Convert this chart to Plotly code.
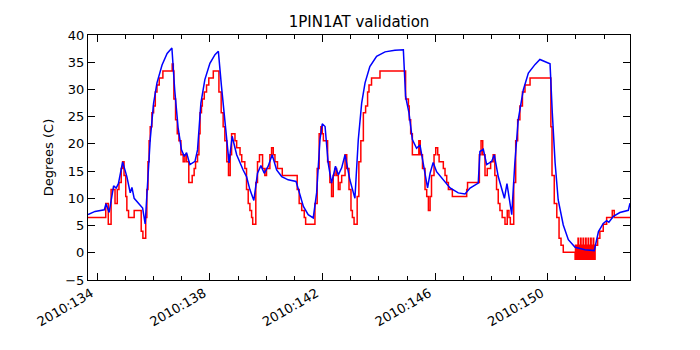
import plotly.graph_objects as go

# model prediction (smooth), x in day-of-year 2010
model_days = [133.67, 133.92, 134.25, 134.31, 134.42, 134.51, 134.58, 134.67, 134.75, 134.90,
              135.05, 135.17, 135.23, 135.31, 135.46, 135.61, 135.70, 135.79, 135.88, 136.00,
              136.12, 136.30, 136.48, 136.65, 136.75, 136.87, 136.99, 137.09, 137.17, 137.29,
              137.47, 137.56, 137.68, 137.82, 138.00, 138.18, 138.30, 138.41, 138.53, 138.68,
              138.79, 138.95, 139.18, 139.30, 139.42, 139.56, 139.69, 139.81, 139.93, 140.07,
              140.21, 140.37, 140.55, 140.78, 141.06, 141.14, 141.32, 141.49, 141.67, 141.79,
              141.91, 141.99, 142.09, 142.20, 142.32, 142.46, 142.56, 142.68, 142.80, 142.97,
              143.15, 143.27, 143.39, 143.51, 143.68, 143.92, 144.22, 144.57, 144.87, 144.95,
              145.07, 145.19, 145.34, 145.46, 145.58, 145.73, 145.82, 145.93, 146.05, 146.29,
              146.53, 146.82, 147.06, 147.24, 147.53, 147.59, 147.71, 147.83, 148.01, 148.10,
              148.24, 148.46, 148.55, 148.72, 148.83, 148.95, 149.13, 149.31, 149.55, 149.72,
              149.84, 150.08, 150.16, 150.26, 150.37, 150.55, 150.73, 150.97, 151.32, 151.65,
              151.80, 151.97, 152.09, 152.17, 152.33, 152.56, 152.86, 152.92]
model_vals = [7.0, 7.6, 7.9, 9.0, 7.4, 10.0, 12.3, 11.9, 12.7, 16.7,
              14.0, 11.0, 12.0, 10.0, 9.1, 8.2, 5.3, 12.2, 20.8, 27.5,
              31.2, 34.5, 36.6, 37.6, 29.9, 23.0, 18.9, 17.7, 18.4, 16.2,
              16.8, 18.9, 27.5, 31.8, 34.8, 36.4, 37.0, 30.6, 23.8, 16.5,
              21.4, 18.0, 15.2, 14.0, 11.6, 9.6, 14.6, 16.0, 14.6, 15.9,
              18.0, 15.2, 14.0, 13.4, 13.1, 11.6, 8.5, 7.0, 6.4, 11.0,
              20.8, 23.7, 23.2, 16.5, 12.8, 15.9, 14.3, 15.6, 18.0, 13.4,
              10.0, 20.8, 27.5, 31.2, 34.2, 36.1, 36.9, 37.2, 37.3, 28.7,
              25.7, 20.8, 19.2, 19.8, 15.9, 11.9, 14.6, 16.6, 14.9, 13.4,
              11.9, 11.0, 10.8, 11.9, 12.8, 18.6, 19.0, 16.2, 16.8, 18.0,
              14.0, 10.0, 12.7, 7.0, 16.5, 24.4, 29.9, 33.0, 34.6, 35.5,
              35.2, 34.7, 25.7, 16.5, 9.7, 5.1, 2.4, 1.0, 0.55, 0.4,
              3.9, 5.4, 5.9, 5.6, 6.7, 7.4, 7.8, 9.1]

# telemetry (quantized, drawn as steps)
telem_days = [133.67, 134.30, 134.39, 134.49, 134.63, 134.71, 134.77, 134.85, 134.90, 134.95,
              135.01, 135.05, 135.11, 135.31, 135.56, 135.62, 135.72, 135.76, 135.80, 135.84,
              135.88, 135.94, 136.00, 136.06, 136.12, 136.20, 136.33, 136.66, 136.70, 136.72,
              136.78, 136.84, 136.90, 136.97, 137.05, 137.11, 137.17, 137.25, 137.37, 137.44,
              137.49, 137.56, 137.61, 137.65, 137.70, 137.73, 137.80, 137.88, 137.96, 138.12,
              138.32, 138.40, 138.47, 138.53, 138.60, 138.66, 138.72, 138.77, 138.89, 138.95,
              139.07, 139.13, 139.24, 139.30, 139.36, 139.42, 139.48, 139.52, 139.63, 139.69,
              139.76, 139.87, 139.95, 140.01, 140.13, 140.19, 140.25, 140.31, 140.40, 140.57,
              141.10, 141.17, 141.26, 141.35, 141.40, 141.73, 141.81, 141.88, 141.94, 141.99,
              142.03, 142.18, 142.26, 142.32, 142.38, 142.44, 142.50, 142.56, 142.62, 142.68,
              142.80, 142.86, 142.94, 143.01, 143.06, 143.12, 143.23, 143.29, 143.36, 143.45,
              143.53, 143.60, 143.65, 143.74, 144.04, 144.95, 145.05, 145.08, 145.13, 145.19,
              145.42, 145.47, 145.55, 145.64, 145.70, 145.76, 145.82, 145.87, 145.96, 146.02,
              146.09, 146.14, 146.29, 146.35, 146.41, 146.47, 146.61, 147.12, 147.15, 147.57,
              147.63, 147.69, 147.77, 147.85, 147.97, 148.06, 148.12, 148.18, 148.24, 148.30,
              148.38, 148.48, 148.56, 148.62, 148.67, 148.79, 148.86, 148.93, 149.01, 149.10,
              149.19, 149.37, 150.11, 150.15, 150.23, 150.32, 150.40, 150.47, 150.55, 150.67,
              150.97, 150.985, 151.00, 151.015, 151.03, 151.045, 151.06, 151.075, 151.09, 151.105,
              151.12, 151.135, 151.15, 151.165, 151.18, 151.195, 151.21, 151.225, 151.24, 151.255,
              151.27, 151.285, 151.30, 151.315, 151.33, 151.345, 151.36, 151.375, 151.39, 151.405,
              151.42, 151.435, 151.45, 151.465, 151.48, 151.495, 151.51, 151.525, 151.54, 151.555,
              151.57, 151.585, 151.60, 151.615, 151.63, 151.645, 151.66, 151.68, 151.77, 151.85,
              151.97, 152.09, 152.29, 152.36, 152.92]
telem_vals = [6.50, 9.06, 5.22, 11.62, 9.06, 11.62, 12.90, 15.46, 16.74, 14.18,
              10.34, 7.78, 6.50, 7.78, 3.94, 2.66, 6.50, 11.62, 16.74, 20.58,
              23.14, 25.70, 26.98, 29.54, 30.82, 32.10, 33.38, 34.66, 33.38, 28.26,
              24.42, 21.86, 20.58, 18.02, 16.74, 18.02, 16.74, 12.90, 14.18, 15.46,
              16.74, 18.02, 21.86, 25.70, 26.98, 28.26, 29.54, 30.82, 32.10, 33.38,
              29.54, 25.70, 23.14, 20.58, 16.74, 14.18, 18.02, 21.86, 20.58, 19.30,
              18.02, 16.74, 15.46, 11.62, 9.06, 7.78, 6.50, 5.22, 12.90, 16.74,
              18.02, 15.46, 14.18, 15.46, 18.02, 19.30, 18.02, 16.74, 15.46, 14.18,
              11.62, 9.06, 7.78, 6.50, 5.22, 9.06, 15.46, 21.86, 23.14, 21.86,
              20.58, 16.74, 12.90, 10.34, 14.18, 15.46, 14.18, 11.62, 12.90, 14.18,
              18.02, 15.46, 11.62, 7.78, 6.50, 5.22, 10.34, 16.74, 20.58, 25.70,
              26.98, 29.54, 30.82, 32.10, 33.38, 28.26, 26.98, 24.42, 21.86, 18.02,
              20.58, 18.02, 15.46, 11.62, 10.34, 7.78, 10.34, 14.18, 18.02, 19.30,
              18.02, 16.74, 15.46, 14.18, 12.90, 11.62, 10.34, 11.62, 12.90, 18.02,
              20.58, 18.02, 14.18, 15.46, 16.74, 18.02, 14.18, 11.62, 9.06, 7.78,
              6.50, 5.22, 7.78, 6.50, 5.22, 12.90, 20.58, 24.42, 26.98, 29.54,
              30.82, 32.10, 23.14, 14.18, 9.06, 6.50, 2.66, 1.38, 0.10, 0.10,
              -1.18, 1.38, -1.18, 1.38, -1.18, 1.38, -1.18, 2.66, -1.18, 1.38,
              -1.18, 1.38, -1.18, 2.66, -1.18, 1.38, -1.18, 1.38, -1.18, 2.66,
              -1.18, 1.38, -1.18, 1.38, -1.18, 2.66, -1.18, 1.38, -1.18, 1.38,
              -1.18, 2.66, -1.18, 1.38, -1.18, 1.38, -1.18, 2.66, -1.18, 1.38,
              -1.18, 1.38, -1.18, 2.66, -1.18, 1.38, -1.18, 1.38, 2.66, 3.94,
              5.22, 6.50, 7.78, 6.50, 6.50]

tick_days = [134, 138, 142, 146, 150]
tick_labels = ["2010:134", "2010:138", "2010:142", "2010:146", "2010:150"]

fig = go.Figure()

fig.add_trace(go.Scatter(x=telem_days, y=telem_vals, mode='lines', line_shape='hv',
                         line=dict(color='#ff0000', width=1.5), name='telemetry'))
fig.add_trace(go.Scatter(x=model_days, y=model_vals, mode='lines',
                         line=dict(color='#0000ff', width=1.5), name='model'))

axis_style = dict(showline=True, linecolor='black', linewidth=1, mirror='ticks',
                  ticks='inside', tickcolor='black', showgrid=False, zeroline=False,
                  automargin=False,
                  tickfont=dict(family='DejaVu Sans', size=13, color='black'))

# the page body adds an 8px offset, margins compensate for it
fig.update_layout(
    width=700, height=350,
    margin=dict(l=80, r=78, t=27, b=78),
    paper_bgcolor='white', plot_bgcolor='white',
    showlegend=False,
    font=dict(family='DejaVu Sans', color='black'),
    title=dict(text='1PIN1AT validation', x=0.5, xref='paper', y=1 - 14 / 350,
               yref='container', yanchor='middle', automargin=False,
               font=dict(size=15, color='black')),
)
fig.update_xaxes(range=[133.67, 152.92], tickmode='array', tickvals=tick_days,
                 ticktext=tick_labels, tickangle=-30, ticklen=7,
                 ticklabelshift=-6,
                 minor=dict(dtick=1, tick0=134, ticks='inside', ticklen=4, tickcolor='black'),
                 **axis_style)
fig.update_yaxes(range=[-5, 40], dtick=5, tick0=0, ticklen=7,
                 title=dict(text='Degrees (C)', font=dict(size=13, color='black'), standoff=8),
                 **axis_style)

fig.write_html("out.html")
